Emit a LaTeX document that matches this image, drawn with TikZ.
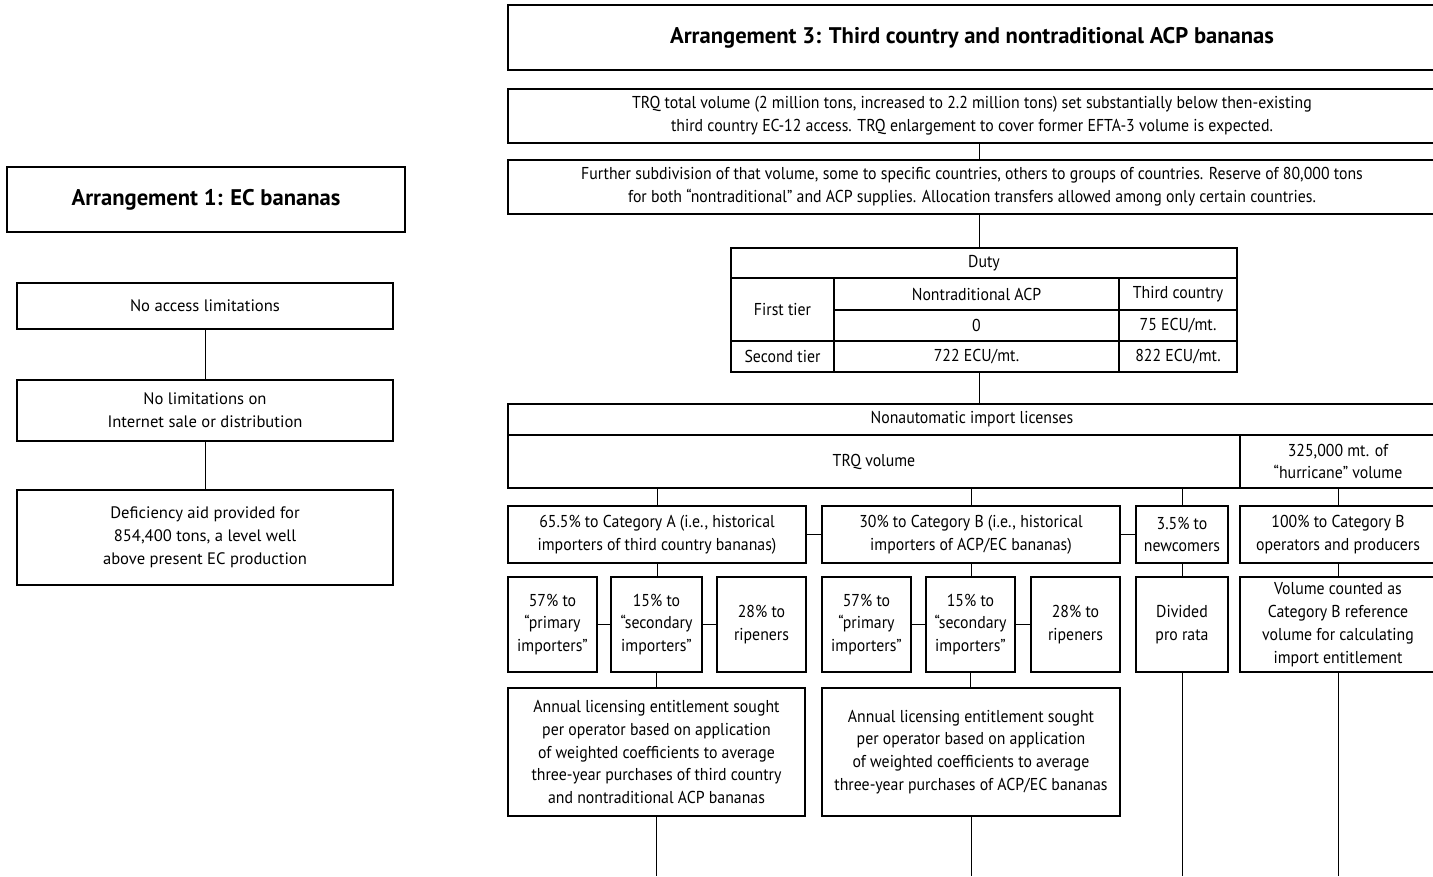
\documentclass[tikz,border=0pt]{standalone}
\usepackage{fontspec}
\setmainfont{PT Sans}
\newfontfamily\condfont{PT Sans}[FakeStretch=0.92]
\usepackage{tikz}
\usetikzlibrary{calc}
\def\cellbox[#1](#2)(#3:#4:#5:#6)#7{\node[#1, minimum width={(#5-#3)*1pt}, minimum height={(#6-#4)*1pt}] (#2) at ({(#3+#5)/2},{(#4+#6)/2}) {#7};}
\tikzset{
	box/.style={draw, line width=1.2pt, inner sep=0pt, align=center, font=\condfont\fontsize{17.2}{22.8}\selectfont},
	leftbox/.style={box, font=\fontsize{16.6}{23}\selectfont},
	titlebox/.style={box, font=\bfseries\fontsize{22.6}{26}\selectfont},
	link/.style={line width=1pt}
}

\begin{document}
\begin{tikzpicture}[x=1pt, y=-1pt]
			%%%%% START %%%%%
			\useasboundingbox (0,0) rectangle (1433,876);
			\coordinate (spine) at (979,0);
			\coordinate (bottom) at (0,876);
			
			% arrangement 1
			\cellbox[titlebox](aone)(7:167:405:232){Arrangement 1: EC bananas}
			\cellbox[leftbox](noaccess)(17:283:393:329){No access limitations}
			\cellbox[leftbox](nolimit)(17:380:393:441){No limitations on\\Internet sale or distribution}
			\cellbox[leftbox](deficiency)(17:490:393:585){Deficiency aid provided for\\854,400 tons, a level well\\above present EC production}
			\draw[link] (noaccess) -- (nolimit);
			\draw[link] (nolimit) -- (deficiency);
			
			% arrangement 3
			\cellbox[titlebox](athree)(508:5:1436:70){Arrangement 3: Third country and nontraditional ACP bananas}
			\cellbox[box](trq)(508:89:1436:143){TRQ total volume (2 million tons, increased to 2.2 million tons) set substantially below then-existing\\third country EC-12 access. TRQ enlargement to cover former EFTA-3 volume is expected.}
			\cellbox[box](further)(508:160:1436:214){Further subdivision of that volume, some to specific countries, others to groups of countries. Reserve of 80,000 tons\\for both “nontraditional” and ACP supplies. Allocation transfers allowed among only certain countries.}
			
			% duty table
			\cellbox[box](duty)(731:248:1237:278){Duty}
			\cellbox[box](firsttier)(731:278:834:341){First tier}
			\cellbox[box](secondtier)(731:341:834:372){Second tier}
			\cellbox[box](nontrad)(834:278:1119:310){Nontraditional ACP}
			\cellbox[box](thirdc)(1119:278:1237:310){Third country}
			\cellbox[box](zero)(834:310:1119:341){0}
			\cellbox[box](sevfive)(1119:310:1237:341){75 ECU/mt.}
			\cellbox[box](sevtwo)(834:341:1119:372){722 ECU/mt.}
			\cellbox[box](eighttwo)(1119:341:1237:372){822 ECU/mt.}
			
			% licenses
			\cellbox[box](nonauto)(508:404:1436:435){Nonautomatic import licenses}
			\cellbox[box](trqvol)(508:435:1240:488){TRQ volume}
			\cellbox[box](hurricane)(1240:435:1436:488){325,000 mt. of\\“hurricane” volume}
			
			\draw[link] (trq.south -| spine) -- (further.north -| spine);
			\draw[link] (further.south -| spine) -- (duty.north -| spine);
			\draw[link] (secondtier.south -| spine) -- (nonauto.north -| spine);
			
			% categories
			\cellbox[box](catA)(508:506:806:563){65.5\% to Category A (i.e., historical\\importers of third country bananas)}
			\cellbox[box](catB)(822:506:1120:563){30\% to Category B (i.e., historical\\importers of ACP/EC bananas)}
			\cellbox[box](newc)(1136:506:1228:563){3.5\% to\\newcomers}
			\cellbox[box](catH)(1240:506:1436:563){100\% to Category B\\operators and producers}
			\draw[link] (catA.north) -- (catA.north |- trqvol.south);
			\draw[link] (catB.north) -- (catB.north |- trqvol.south);
			\draw[link] (newc.north) -- (newc.north |- trqvol.south);
			\draw[link] (catH.north) -- (catH.north |- hurricane.south);
			\draw[link] (catA) -- (catB);
			\draw[link] (catB) -- (newc);
			
			% operators
			\cellbox[box](primA)(508:577:597:672){57\% to\\“primary\\importers”}
			\cellbox[box](secA)(611:577:702:672){15\% to\\“secondary\\importers”}
			\cellbox[box](ripA)(717:577:806:672){28\% to\\ripeners}
			\cellbox[box](primB)(822:577:911:672){57\% to\\“primary\\importers”}
			\cellbox[box](secB)(926:577:1015:672){15\% to\\“secondary\\importers”}
			\cellbox[box](ripB)(1031:577:1120:672){28\% to\\ripeners}
			\cellbox[box](prorata)(1136:577:1228:672){Divided\\pro rata}
			\cellbox[box](refvol)(1240:577:1436:672){Volume counted as\\Category B reference\\volume for calculating\\import entitlement}
			\draw[link] (primA) -- (secA);
			\draw[link] (secA) -- (ripA);
			\draw[link] (primB) -- (secB);
			\draw[link] (secB) -- (ripB);
			\draw[link] (catA.south) -- (catA.south |- secA.north);
			\draw[link] (catB.south) -- (catB.south |- secB.north);
			\draw[link] (newc) -- (prorata);
			\draw[link] (catH) -- (refvol);
			
			% entitlements
			\cellbox[box](annA)(508:688:805:816){Annual licensing entitlement sought\\per operator based on application\\of weighted coefficients to average\\three-year purchases of third country\\and nontraditional ACP bananas}
			\cellbox[box](annB)(822:688:1120:816){Annual licensing entitlement sought\\per operator based on application\\of weighted coefficients to average\\three-year purchases of ACP/EC bananas}
			\draw[link] (secA.south) -- (secA.south |- annA.north);
			\draw[link] (secB.south) -- (secB.south |- annB.north);
			\draw[link] (annA.south) -- (annA.south |- bottom);
			\draw[link] (annB.south) -- (annB.south |- bottom);
			\draw[link] (prorata.south) -- (prorata.south |- bottom);
			\draw[link] (refvol.south) -- (refvol.south |- bottom);
			%%%%% END %%%%%
		\end{tikzpicture}
\end{document}
